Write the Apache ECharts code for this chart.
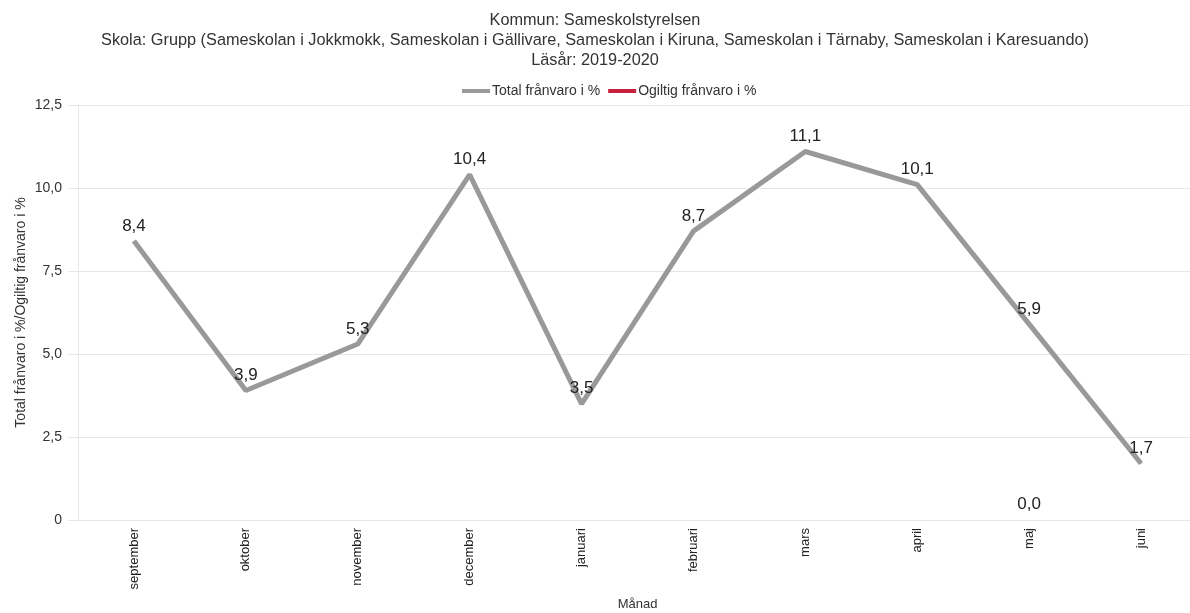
<!DOCTYPE html>
<html>
<head>
	<meta charset="UTF-8">
	<title>Frånvaro</title>
	<script src="https://cdn.jsdelivr.net/npm/echarts@6/dist/echarts.min.js"></script>
	<style>
		html, body { margin: 0; padding: 0; background: #fff; }
		#chart { width: 1190px; height: 613px; }
	</style>
</head>
<body>
<div id="chart"></div>
<script type="text/javascript">
	// data
	var months = ['september', 'oktober', 'november', 'december', 'januari', 'februari', 'mars', 'april', 'maj', 'juni'];
	var totalFranvaro = [8.4, 3.9, 5.3, 10.4, 3.5, 8.7, 11.1, 10.1, 5.9, 1.7];
	var ogiltigFranvaro = [null, null, null, null, null, null, null, null, 0, null];
	var yTicks = [0, 2.5, 5, 7.5, 10, 12.5];

	function fmt(v) {
		if (v === 0) return '0';
		return v.toFixed(1).replace('.', ',');
	}
	function labelFmt(p) {
		return p.value.toFixed(1).replace('.', ',');
	}

	var font = 'Liberation Sans, Arial, sans-serif';
	var myChart = echarts.init(document.getElementById('chart'));

	var option = {
		animation: false,
		textStyle: { fontFamily: font },
		title: {
			text: 'Kommun: Sameskolstyrelsen\nSkola: Grupp (Sameskolan i Jokkmokk, Sameskolan i Gällivare, Sameskolan i Kiruna, Sameskolan i Tärnaby, Sameskolan i Karesuando)\nLäsår: 2019-2020',
			left: 'center',
			top: 6,
			textStyle: {
				fontFamily: font,
				fontSize: 16.3,
				fontWeight: 'normal',
				color: '#333',
				lineHeight: 20
			}
		},
		legend: {
			top: 79,
			left: 457,
			itemWidth: 28,
			itemHeight: 4,
			itemGap: 8,
			icon: 'rect',
			textStyle: { fontSize: 14, color: '#333', fontFamily: font, padding: [0, 0, 0, -3] },
			data: [
				{ name: 'Total frånvaro i %', itemStyle: { color: '#999999', opacity: 1 } },
				{ name: 'Ogiltig frånvaro i %', itemStyle: { color: '#c8203f', opacity: 1 } }
			]
		},
		grid: {
			left: 78,
			top: 105,
			width: 1119,
			height: 415,
			outerBoundsMode: 'none',
			containLabel: false
		},
		xAxis: {
			type: 'category',
			data: months,
			name: 'Månad',
			nameLocation: 'middle',
			nameGap: 78,
			nameMoveOverlap: false,
			nameTextStyle: { fontSize: 13, color: '#333' },
			axisLine: { lineStyle: { color: '#e6e6e6' } },
			axisTick: { show: false },
			axisLabel: { rotate: 90, fontSize: 13, color: '#222', margin: 8 }
		},
		yAxis: {
			type: 'value',
			min: yTicks[0],
			max: yTicks[yTicks.length - 1],
			interval: 2.5,
			name: 'Total frånvaro i %/Ogiltig frånvaro i %',
			nameLocation: 'middle',
			nameGap: 50,
			nameMoveOverlap: false,
			nameTextStyle: { fontSize: 14, color: '#333' },
			axisLine: { show: true, lineStyle: { color: '#e6e6e6' } },
			axisTick: { show: true, length: 10, lineStyle: { color: '#e6e6e6' } },
			splitLine: { lineStyle: { color: '#e6e6e6' } },
			axisLabel: {
				fontSize: 14, color: '#333', margin: 16,
				formatter: function (v) { return fmt(v); }
			}
		},
		series: [{
			name: 'Total frånvaro i %',
			type: 'line',
			data: totalFranvaro,
			symbol: 'circle',
			symbolSize: 1,
			showSymbol: true,
			itemStyle: { color: '#999999' },
			lineStyle: { width: 5, color: '#999999' },
			label: {
				show: true, position: 'top', distance: 6,
				fontSize: 17, color: '#222',
				formatter: labelFmt
			}
		}, {
			name: 'Ogiltig frånvaro i %',
			type: 'line',
			data: ogiltigFranvaro,
			symbol: 'circle',
			symbolSize: 1,
			showSymbol: true,
			itemStyle: { color: 'rgba(0,0,0,0)' },
			lineStyle: { width: 5, color: '#c8203f' },
			label: {
				show: true, position: 'top', distance: 7,
				fontSize: 17, color: '#222',
				formatter: labelFmt
			}
		}]
	};
	myChart.setOption(option);
</script>
</body>
</html>
